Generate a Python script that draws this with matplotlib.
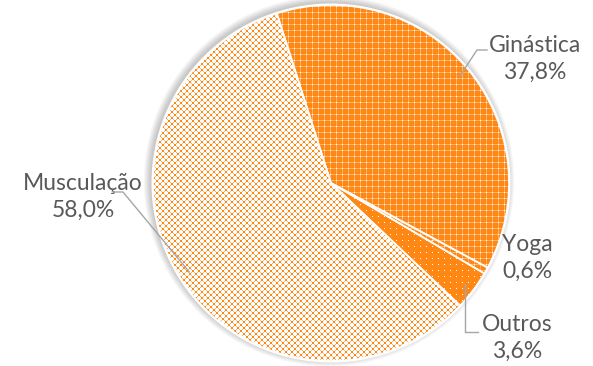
import numpy as np
import matplotlib
matplotlib.use("Agg")
import matplotlib.pyplot as plt
from matplotlib.patches import Circle

categories = ["Ginástica", "Yoga", "Outros", "Musculação"]
shares = [37.8, 0.6, 3.6, 58.0]
patterns = ["dark", "dark", "dots", "light"]

W, H = 593, 366
CX, CY, R = 331, 183, 178
ORANGE = np.array([255, 136, 20]) / 255
PALE = np.array([255, 180, 110]) / 255
TEXT_GREY = "#595959"
LINE_GREY = "#A6A6A6"


def texture(kind, p=6):
    yy, xx = np.mgrid[0:H, 0:W]
    img = np.ones((H, W, 3))
    if kind == "light":
        sq = (((xx % p) < 2) & ((yy % p) < 2)) | \
             ((((xx + 3) % p) < 2) & (((yy + 3) % p) < 2))
        pale = ((xx % 3) == 2) & ((yy % 3) == 2)
        img[pale] = PALE
        img[sq] = ORANGE
    elif kind == "dark":
        grid = (xx % p == 0) | (yy % p == 0)
        img[~grid] = ORANGE
        img[(xx % p == 0) ^ (yy % p == 0)] = PALE
        img[(xx % p == 0) & (yy % p == 0)] = 1
    else:
        dots = (xx % p == 0) & (yy % p == 0)
        img[~dots] = ORANGE
    return img


fig = plt.figure(figsize=(W / 100, H / 100), dpi=100)
ax = fig.add_axes([0, 0, 1, 1])

# soft shadow round the pie
for i in range(8):
    ax.add_patch(Circle((CX - 2, CY - 2), R + 1 + i * 0.9, color="k",
                        alpha=0.028, lw=0, zorder=0))
ax.add_patch(Circle((CX, CY), R + 1.5, color="white", lw=0, zorder=0.5))

wedges, _ = ax.pie(shares, center=(CX, CY), radius=R, startangle=252.3,
                   counterclock=True, frame=False,
                   wedgeprops=dict(facecolor="none", edgecolor="white",
                                   linewidth=1.2, zorder=3))

for w, kind in zip(wedges, patterns):
    im = ax.imshow(texture(kind), extent=(0, W, H, 0),
                   interpolation="nearest", zorder=2)
    im.set_clip_path(w)

# labels: text position, elbow point, text end of leader
label_pos = {
    "Ginástica": ((535, 59), [(477, 50), (487, 50)]),
    "Yoga": ((527, 258), None),
    "Outros": ((517, 338), [None, (478, 332)]),
    "Musculação": ((83, 197), [(123, 192), (113, 192)]),
}

for w, name, val in zip(wedges, categories, shares):
    (tx, ty), leader = label_pos[name]
    txt = f"{name}\n{val:.1f}%".replace(".", ",")
    ax.text(tx, ty, txt, ha="center", va="center", fontsize=16.5,
            family="Lato", color=TEXT_GREY, linespacing=1.35)
    if leader is None:
        continue
    th = np.deg2rad((w.theta1 + w.theta2) / 2)
    ax0, ay0 = CX + 0.94 * R * np.cos(th), CY + 0.94 * R * np.sin(th)
    elbow, end = leader
    if elbow is None:
        elbow = (ax0, end[1])
    ax.plot([ax0, elbow[0], end[0]], [ay0, elbow[1], end[1]],
            color=LINE_GREY, lw=1, zorder=4)

ax.set_xlim(0, W)
ax.set_ylim(H, 0)
ax.set_aspect("equal")
ax.axis("off")
fig.savefig("out.png", dpi=100, facecolor="white")
